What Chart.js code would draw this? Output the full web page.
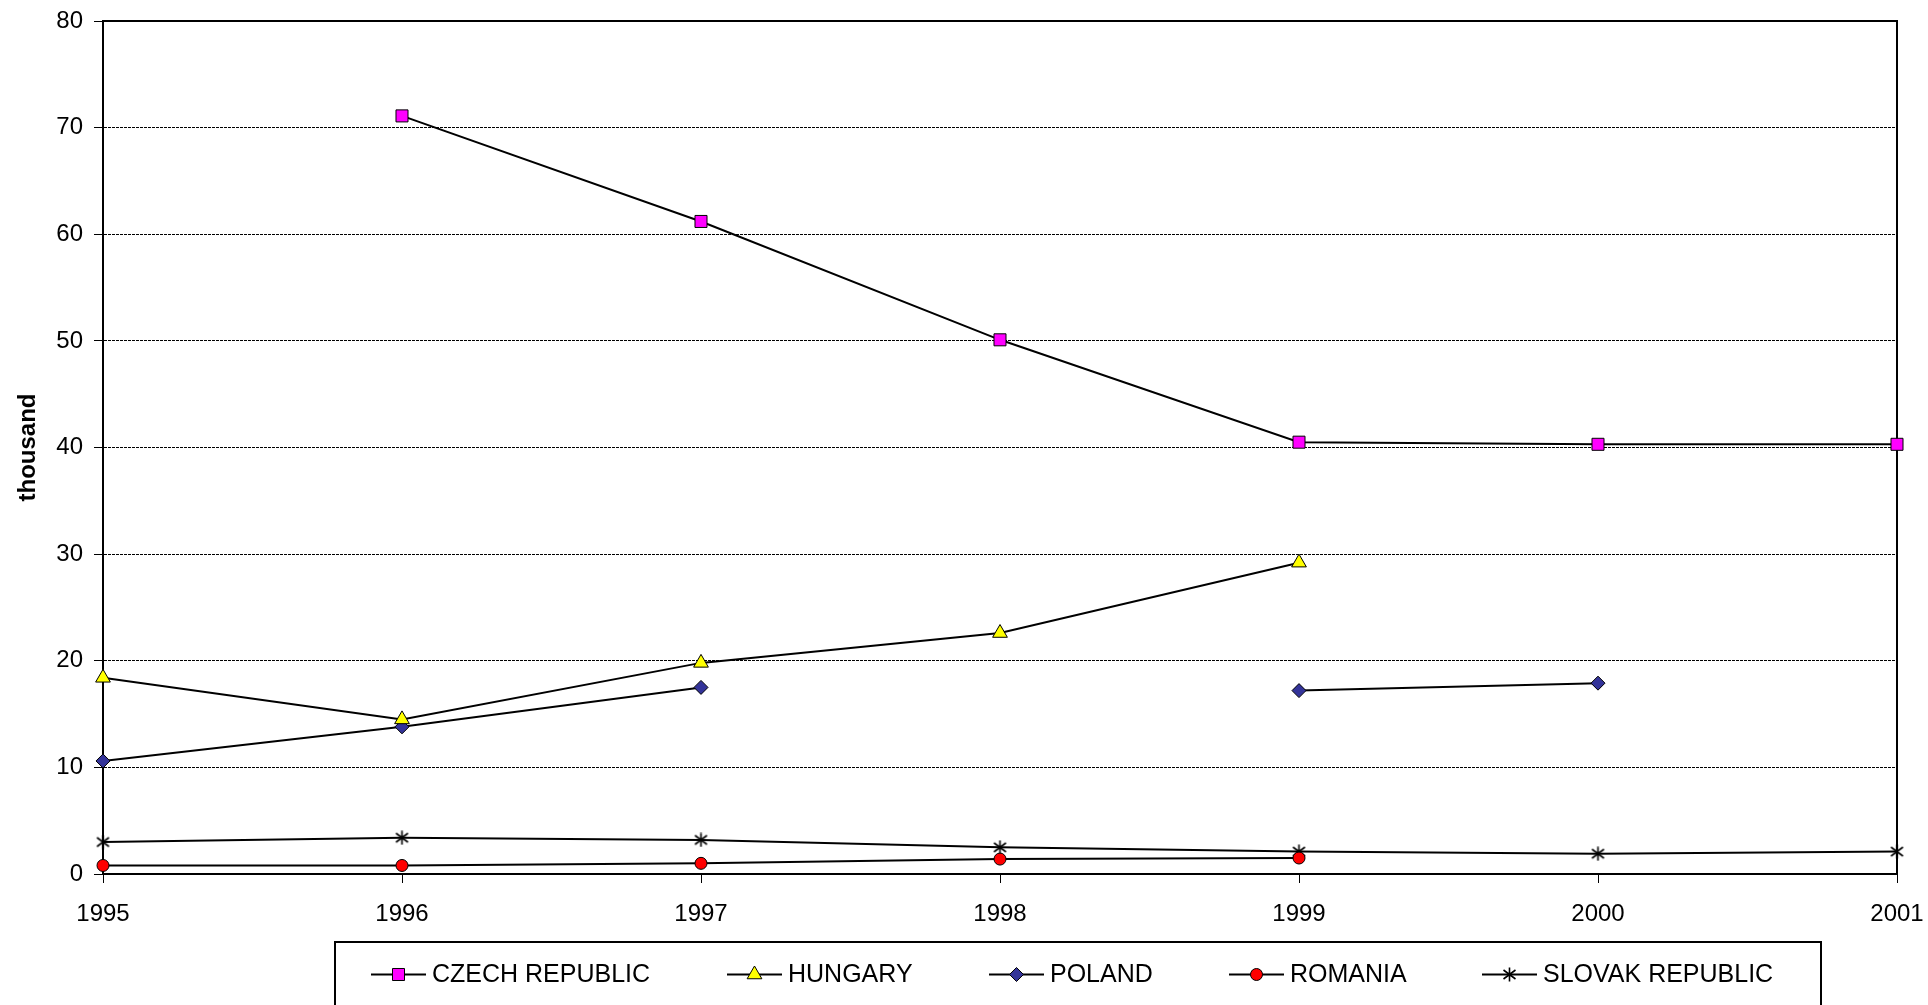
<!DOCTYPE html>
<html>
<head>
<meta charset="utf-8">
<title>thousand</title>
<script src="https://cdn.jsdelivr.net/npm/chart.js@4.4.1/dist/chart.umd.min.js"></script>
<style>
  body { margin: 0; background: #fff; }
  #chart-box { width: 1928px; height: 1005px; }
</style>
</head>
<body>
<div id="chart-box"><canvas id="my-chart" width="1928" height="1005"></canvas></div>
<script>
let years = ['1995', '1996', '1997', '1998', '1999', '2000', '2001'];
let yTicks = [0, 10, 20, 30, 40, 50, 60, 70, 80];

let czech = [null, 71.1, 61.2, 50.1, 40.5, 40.3, 40.3];
let hungary = [18.4, 14.5, 19.8, 22.6, 29.2, null, null];
let poland = [10.6, 13.8, 17.5, null, 17.2, 17.9, null];
let romania = [0.8, 0.8, 1.0, 1.4, 1.5, null, null];
let slovak = [3.0, 3.4, 3.2, 2.5, 2.1, 1.9, 2.1];

let seriesNames = ['CZECH REPUBLIC', 'HUNGARY', 'POLAND', 'ROMANIA', 'SLOVAK REPUBLIC'];

let fontName = '"Liberation Sans", Arial, sans-serif';

function makeStar() {
  let c = document.createElement('canvas');
  c.width = 15;
  c.height = 15;
  let g = c.getContext('2d');
  g.strokeStyle = '#000';
  g.lineWidth = 1.6;
  g.beginPath();
  g.moveTo(1.5, 3); g.lineTo(13.5, 12);
  g.moveTo(13.5, 3); g.lineTo(1.5, 12);
  g.moveTo(7.5, 0.5); g.lineTo(7.5, 14.5);
  g.stroke();
  return c;
}
let starImg = makeStar();

function lineSet(label, data, style, radius, fill) {
  return {
    label: label,
    data: data,
    borderColor: '#000',
    borderWidth: 2,
    pointStyle: style,
    pointRadius: radius,
    pointBackgroundColor: fill,
    pointBorderColor: '#000',
    pointBorderWidth: 1,
    spanGaps: false,
    clip: false,
    tension: 0
  };
}

let whiteBack = {
  id: 'whiteBack',
  beforeDraw(chart) {
    let ctx = chart.ctx;
    ctx.save();
    ctx.fillStyle = '#fff';
    ctx.fillRect(0, 0, chart.width, chart.height);
    ctx.restore();
  }
};

let frame = {
  id: 'frame',
  beforeDatasetsDraw(chart) {
    let a = chart.chartArea;
    let ctx = chart.ctx;
    ctx.save();
    ctx.strokeStyle = '#000';
    ctx.lineWidth = 2;
    ctx.beginPath();
    ctx.moveTo(a.left - 1, a.top);
    ctx.lineTo(a.right, a.top);
    ctx.lineTo(a.right, a.bottom);
    ctx.stroke();
    ctx.restore();
  }
};

let legendStarts = [371, 727, 989, 1229, 1482];

let boxLegend = {
  id: 'boxLegend',
  afterDraw(chart) {
    let ctx = chart.ctx;
    ctx.save();
    ctx.strokeStyle = '#000';
    ctx.lineWidth = 2;
    ctx.strokeRect(335, 942, 1486, 80);

    let y = 974.5;
    ctx.font = '25px ' + fontName;
    ctx.textBaseline = 'middle';
    ctx.textAlign = 'left';
    for (let i = 0; i < chart.data.datasets.length; i++) {
      let ds = chart.data.datasets[i];
      let x0 = legendStarts[i];
      ctx.strokeStyle = '#000';
      ctx.lineWidth = 2;
      ctx.beginPath();
      ctx.moveTo(x0, y);
      ctx.lineTo(x0 + 55, y);
      ctx.stroke();

      ctx.fillStyle = ds.pointBackgroundColor;
      ctx.strokeStyle = '#000';
      ctx.lineWidth = 1;
      Chart.helpers.drawPoint(ctx, {
        pointStyle: ds.pointStyle,
        radius: ds.pointRadius,
        rotation: 0,
        borderWidth: 1
      }, x0 + 27.5, y);

      ctx.fillStyle = '#000';
      ctx.fillText(seriesNames[i], x0 + 61, y + 1);
    }
    ctx.restore();
  }
};

let chartcontext = document.getElementById('my-chart').getContext('2d');

let chartConfig = {
  type: 'line',
  data: {
    labels: years,
    datasets: [
      lineSet(seriesNames[0], czech, 'rect', 8.5, '#FF00FF'),
      lineSet(seriesNames[1], hungary, 'triangle', 8.5, '#FFFF00'),
      lineSet(seriesNames[2], poland, 'rectRot', 7, '#333399'),
      lineSet(seriesNames[3], romania, 'circle', 6, '#FF0000'),
      lineSet(seriesNames[4], slovak, starImg, 7, '#000')
    ]
  },
  options: {
    responsive: false,
    animation: false,
    events: [],
    layout: { padding: { top: 21, right: 31, bottom: 0, left: 0 } },
    plugins: {
      legend: { display: false },
      tooltip: { enabled: false },
      title: { display: false }
    },
    scales: {
      x: {
        type: 'category',
        offset: false,
        afterFit(s) {
          s.height = 131;
          s.paddingLeft = 0;
          s.paddingRight = 0;
        },
        grid: {
          display: true,
          drawOnChartArea: false,
          drawTicks: true,
          tickLength: 9,
          tickColor: '#000',
          tickWidth: 1,
          color: '#000'
        },
        border: { display: true, color: '#000', width: 2 },
        ticks: {
          color: '#000',
          font: { family: fontName, size: 24 },
          padding: 17,
          maxRotation: 0,
          autoSkip: false
        }
      },
      y: {
        min: 0,
        max: 80,
        afterFit(s) {
          s.width = 103;
          s.paddingTop = 0;
          s.paddingBottom = 0;
        },
        afterBuildTicks(s) { s.ticks = yTicks.map(v => ({ value: v })); },
        grid: {
          color: '#000',
          lineWidth: 1,
          drawTicks: true,
          tickLength: 9,
          tickColor: '#000',
          tickWidth: 1,
          tickBorderDash: []
        },
        border: { display: true, color: '#000', width: 2, dash: [3, 1] },
        ticks: {
          color: '#000',
          font: { family: fontName, size: 24 },
          padding: 11
        },
        title: {
          display: true,
          text: 'thousand',
          color: '#000',
          font: { family: fontName, size: 24, weight: 'bold' },
          padding: { top: 14, bottom: 0 }
        }
      }
    }
  },
  plugins: [whiteBack, frame, boxLegend]
};

let mychart = new Chart(chartcontext, chartConfig);
</script>
</body>
</html>
